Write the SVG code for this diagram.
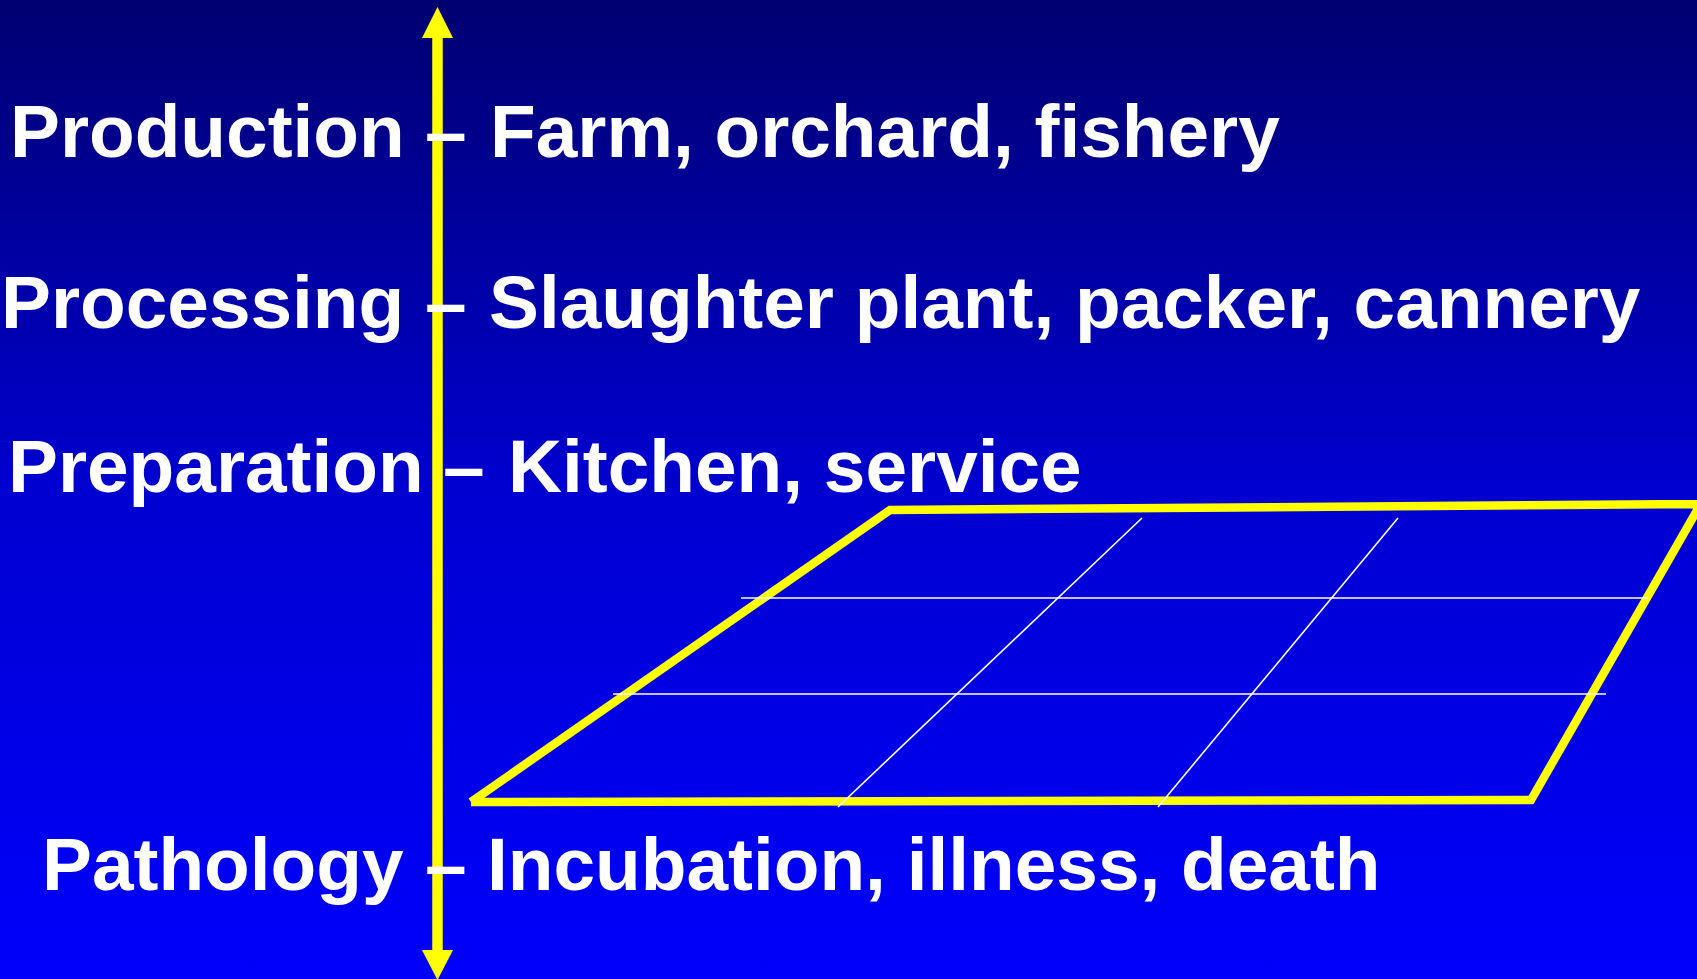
<svg xmlns="http://www.w3.org/2000/svg" width="1697" height="979" viewBox="0 0 1697 979">
  <defs>
    <linearGradient id="bg" x1="0" y1="0" x2="0" y2="1">
      <stop offset="0" stop-color="#000070"/>
      <stop offset="0.5" stop-color="#0000D0"/>
      <stop offset="1" stop-color="#0000FC"/>
    </linearGradient>
    <style>
      .lbl { font-family: "Liberation Sans", Arial, sans-serif; font-weight: bold; font-size: 74.8px; fill: #FFFFFF; }
      .axis { stroke: #FFFF00; stroke-width: 10.5; fill: none; }
      .head { fill: #FFFF00; }
      .plane { stroke: #FFFF00; stroke-width: 8.5; fill: none; stroke-linejoin: miter; }
      .grid { stroke: #FFFFFF; stroke-width: 1.6; fill: none; }
    </style>
  </defs>
  <rect x="0" y="0" width="1697" height="979" fill="url(#bg)"/>

  <g id="plane">
    <path class="plane" d="M471,802 L890,510 L1710,504 M1703,500 L1531,800 L471,802"/>
    <line class="grid" x1="741" y1="598" x2="1648" y2="598"/>
    <line class="grid" x1="613" y1="694" x2="1606" y2="694"/>
    <line class="grid" x1="1142" y1="518" x2="838" y2="807"/>
    <line class="grid" x1="1398" y1="518" x2="1158" y2="807"/>
  </g>

  <g id="connectors">
    <line class="axis" x1="437.5" y1="36" x2="437.5" y2="952"/>
    <polygon class="head" points="437.5,7 422,38 453,38"/>
    <polygon class="head" points="437.5,980 422,950 453,950"/>
  </g>

  <g id="production">
    <text class="lbl" y="157"><tspan x="10">Production</tspan><tspan x="425">–</tspan><tspan x="490">Farm, orchard, fishery</tspan></text>
  </g>
  <g id="processing">
    <text class="lbl" y="328"><tspan x="1">Processing</tspan><tspan x="425">–</tspan><tspan x="489">Slaughter plant, packer, cannery</tspan></text>
  </g>
  <g id="preparation">
    <text class="lbl" y="492"><tspan x="8">Preparation</tspan><tspan x="443">–</tspan><tspan x="508">Kitchen, service</tspan></text>
  </g>
  <g id="pathology">
    <text class="lbl" y="890"><tspan x="42">Pathology</tspan><tspan x="425">–</tspan><tspan x="487">Incubation, illness, death</tspan></text>
  </g>
</svg>
